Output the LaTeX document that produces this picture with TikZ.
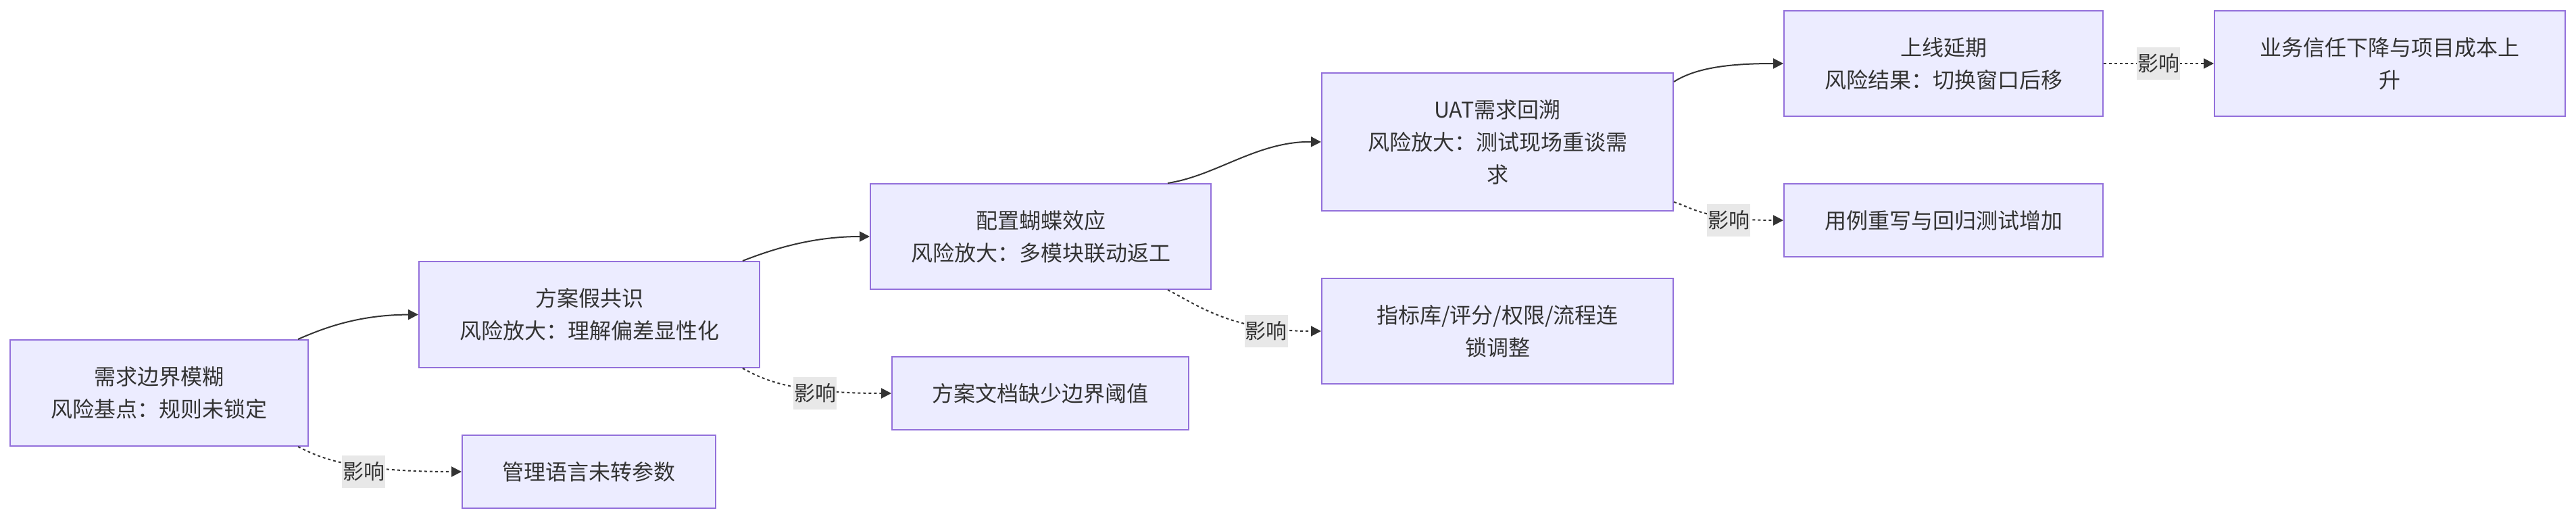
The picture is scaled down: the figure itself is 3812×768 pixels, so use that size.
\documentclass[tikz,border=0pt]{standalone}
\usepackage{fontspec}
\setmainfont{Noto Sans CJK SC}
\usetikzlibrary{arrows.meta}
\definecolor{nfill}{HTML}{ECECFF}
\definecolor{nstroke}{HTML}{9370DB}
\definecolor{ntext}{HTML}{333333}
\definecolor{lfill}{HTML}{E8E8E8}
\begin{document}
\begin{tikzpicture}[x=1pt,y=-1pt,
  nbox/.style={draw=nstroke,fill=nfill,line width=2pt,text=ntext,inner sep=0pt,align=center,
    font=\fontsize{32}{48}\selectfont},
  lbl/.style={fill=lfill,text=ntext,inner sep=0pt,minimum width=64pt,minimum height=48pt,
    font=\fontsize{31}{48}\selectfont},
  solidedge/.style={draw=ntext,line width=2pt,-{Triangle[length=15pt,width=15pt]}},
  dotedge/.style={draw=ntext,line width=2pt,dash pattern=on 4pt off 4pt,-{Triangle[length=15pt,width=15pt]}}]
\useasboundingbox (0,0) rectangle (3812,768);
\node[nbox,minimum width=441pt,minimum height=157pt] (A) at (235.5,581.5) {需求边界模糊\\风险基点：规则未锁定};
\node[nbox,minimum width=504pt,minimum height=157pt] (B) at (872,465.5) {方案假共识\\风险放大：理解偏差显性化};
\node[nbox,minimum width=504pt,minimum height=156pt] (C) at (1540,350) {配置蝴蝶效应\\风险放大：多模块联动返工};
\node[nbox,minimum width=520pt,minimum height=204pt] (D) at (2216,210) {UAT需求回溯\\风险放大：测试现场重谈需\\求};
\node[nbox,minimum width=472pt,minimum height=156pt] (E) at (2876,94) {上线延期\\风险结果：切换窗口后移};
\node[nbox,minimum width=519pt,minimum height=156pt] (F) at (3536.5,94) {业务信任下降与项目成本上\\升};
\node[nbox,minimum width=472pt,minimum height=108pt] (G) at (2876,326) {用例重写与回归测试增加};
\node[nbox,minimum width=375pt,minimum height=108pt] (H) at (871.5,698) {管理语言未转参数};
\node[nbox,minimum width=439pt,minimum height=108pt] (I) at (1539.5,582) {方案文档缺少边界阈值};
\node[nbox,minimum width=520pt,minimum height=156pt] (J) at (2216,490) {指标库/评分/权限/流程连\\锁调整};
% solid edges
\draw[solidedge] ([xshift=-16pt]A.north east) .. controls (480,485) and (530,466) .. (B.west);
\draw[solidedge] ([xshift=-26pt]B.north east) .. controls (1140,370) and (1200,350) .. (C.west);
\draw[solidedge] ([xshift=-65pt]C.north east) .. controls (1800,260) and (1860,209) .. (D.west);
\draw[solidedge] ([yshift=-14pt]D.north east) .. controls (2510,100) and (2560,94) .. (E.west);
% dotted edges
\draw[dotedge] ([xshift=-16pt]A.south east) .. controls (470,675) and (510,698) .. (H.west);
\draw[dotedge] ([xshift=-26pt]B.south east) .. controls (1130,562) and (1170,582) .. (I.west);
\draw[dotedge] ([xshift=-65pt]C.south east) .. controls (1770,450) and (1820,490) .. (J.west);
\draw[dotedge] ([yshift=14pt]D.south east) .. controls (2500,305) and (2520,326) .. (G.west);
\draw[dotedge] (E.east) -- (F.west);
% labels
\node[lbl] (l1) at (538,698) {影响};
\node[lbl] (l2) at (1206,582) {影响};
\node[lbl] (l3) at (1873.5,489.5) {影响};
\node[lbl] (l4) at (2558,326) {影响};
\node[lbl] (l5) at (3194,94) {影响};
\end{tikzpicture}
\end{document}
